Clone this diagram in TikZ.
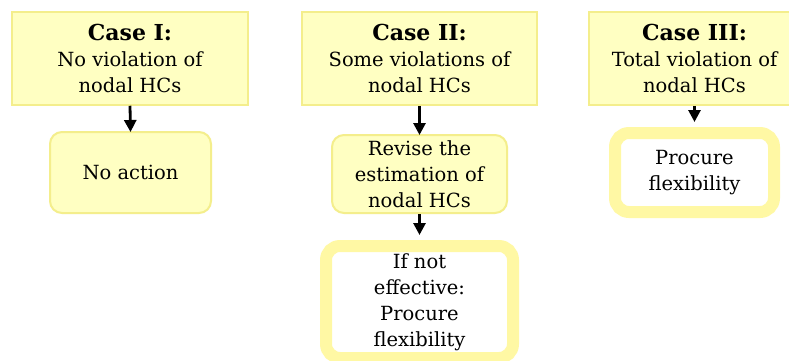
\documentclass[tikz,border=0pt]{standalone}
\usepackage{fontspec}
\setmainfont{DejaVu Serif}
\usetikzlibrary{arrows.meta}
\definecolor{paleyellow}{HTML}{FFFFC2}
\definecolor{edgeyellow}{HTML}{F4EE8C}
\definecolor{ringyellow}{HTML}{FFF8A4}
\newcommand{\casetitle}[1]{{\fontsize{22}{26}\selectfont\bfseries #1}}
\tikzset{
  x=1pt, y=1pt,
  txt/.style={font=\fontsize{19.5}{26}\selectfont, align=center, text=black, inner sep=0pt},
  casebox/.style={txt, rectangle, fill=paleyellow, draw=edgeyellow, line width=1.5pt},
  softbox/.style={txt, rectangle, rounded corners=12pt, fill=paleyellow, draw=edgeyellow, line width=2pt},
  ringbox/.style={txt, rectangle, rounded corners=14pt, fill=white, draw=ringyellow, line width=12pt},
  flow/.style={-{Triangle[width=12pt,length=12pt]}, line width=2.8pt, black, shorten >=-1pt},
}
\begin{document}
\begin{tikzpicture}
\useasboundingbox[fill=white] (0,0) rectangle (789,-360);

% case headers
\node[casebox, minimum width=236pt, minimum height=93pt] (c1) at (130,-58.5)
  {\casetitle{Case I:}\\No violation of\\nodal HCs};
\node[casebox, minimum width=235pt, minimum height=93pt] (c2) at (419.5,-58.5)
  {\casetitle{Case II:}\\Some violations of\\nodal HCs};
\node[casebox, minimum width=211pt, minimum height=93pt] (c3) at (694.5,-58.5)
  {\casetitle{Case III:}\\Total violation of\\nodal HCs};

% actions
\node[softbox, minimum width=161pt, minimum height=81pt] (a1) at (130.5,-172.5) {No action};
\node[softbox, minimum width=175pt, minimum height=78pt] (a2) at (419.5,-174)
  {Revise the\\estimation of\\nodal HCs};
\node[ringbox, minimum width=187pt, minimum height=112pt] (a3) at (419.5,-302)
  {If not\\effective:\\Procure\\flexibility};
\node[ringbox, minimum width=159pt, minimum height=79pt] (b3) at (694.5,-172.5)
  {Procure\\flexibility};

% connectors
\draw[flow] (c1.south) -- (a1.north);
\draw[flow] (c2.south) -- (a2.north);
\draw[flow] (a2.south) -- ([yshift=6pt]a3.north);
\draw[flow] (c3.south) -- ([yshift=6pt]b3.north);
\end{tikzpicture}
\end{document}
